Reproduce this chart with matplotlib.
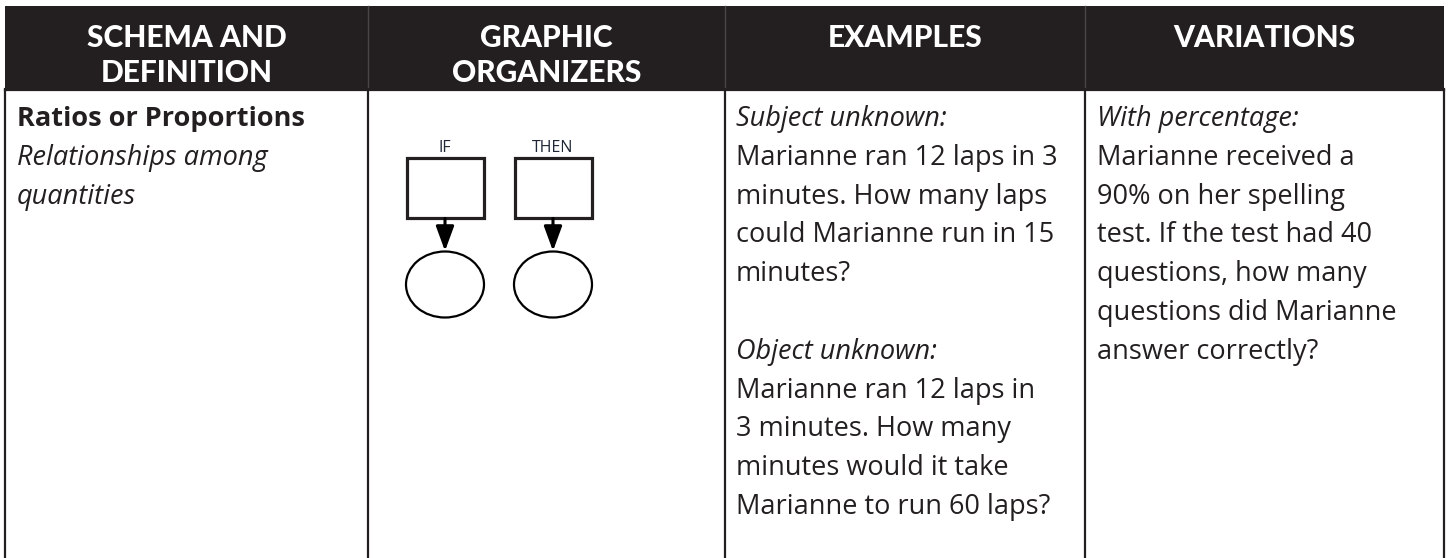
import matplotlib
matplotlib.use("Agg")
import matplotlib.pyplot as plt
from matplotlib.patches import Rectangle, Ellipse, FancyArrowPatch

# ---- content ----
headers = ["SCHEMA AND\nDEFINITION", "GRAPHIC\nORGANIZERS", "EXAMPLES", "VARIATIONS"]
col_edges = [5, 368, 725, 1085, 1444]

schema_title = "Ratios or Proportions"
schema_def = ["Relationships among", "quantities"]

examples = [
    ("Subject unknown:", "italic"),
    ("Marianne ran 12 laps in 3", "normal"),
    ("minutes. How many laps", "normal"),
    ("could Marianne run in 15", "normal"),
    ("minutes?", "normal"),
    ("", "normal"),
    ("Object unknown:", "italic"),
    ("Marianne ran 12 laps in", "normal"),
    ("3 minutes. How many", "normal"),
    ("minutes would it take", "normal"),
    ("Marianne to run 60 laps?", "normal"),
]
variations = [
    ("With percentage:", "italic"),
    ("Marianne received a", "normal"),
    ("90% on her spelling", "normal"),
    ("test. If the test had 40", "normal"),
    ("questions, how many", "normal"),
    ("questions did Marianne", "normal"),
    ("answer correctly?", "normal"),
]
organizer_labels = ["IF", "THEN"]

# ---- style ----
W, H = 1449, 558
DARK = "#231f20"
FONT = "Open Sans"
HFONT = "Lato"
BODY_SIZE = 19.5
LINE_H = 38.8
first_baseline = 126

fig = plt.figure(figsize=(W / 100, H / 100), dpi=100)
ax = fig.add_axes([0, 0, 1, 1])
ax.set_xlim(0, W)
ax.set_ylim(H, 0)
ax.axis("off")

# header band
hdr_top, hdr_bot = 6, 89
ax.add_patch(Rectangle((col_edges[0], hdr_top), col_edges[-1] - col_edges[0],
                       hdr_bot - hdr_top, facecolor=DARK, edgecolor="none"))
for x in col_edges[1:-1]:
    ax.plot([x, x], [hdr_top, hdr_bot], color="#4a4647", lw=1)
for i, h in enumerate(headers):
    cx = (col_edges[i] + col_edges[i + 1]) / 2
    for j, line in enumerate(h.split("\n")):
        ax.text(cx, 47 + j * 35, line, color="white", fontsize=21.5, fontweight="black",
                family=HFONT, ha="center", va="baseline")

# table borders
tbl_bot = H + 5
for x in col_edges:
    ax.plot([x, x], [hdr_bot, tbl_bot], color=DARK, lw=1.6)
ax.plot([col_edges[0], col_edges[-1]], [hdr_bot + 1, hdr_bot + 1], color=DARK, lw=1.6)

def draw_lines(x0, lines):
    for k, (txt, style) in enumerate(lines):
        if not txt:
            continue
        weight = "bold" if style == "bold" else "normal"
        st = "italic" if style == "italic" else "normal"
        ax.text(x0, first_baseline + k * LINE_H, txt, color=DARK, fontsize=BODY_SIZE,
                family=FONT, fontweight=weight, style=st, ha="left", va="baseline")

draw_lines(col_edges[0] + 12, [(schema_title, "bold")] + [(s, "italic") for s in schema_def])
draw_lines(col_edges[2] + 11, examples)
draw_lines(col_edges[3] + 12, variations)

# graphic organizer
box_w, box_h = 77, 60
box_top = 157.5
arrow_end = 251
ell_w, ell_h = 78, 66
for k, lab in enumerate(organizer_labels):
    cx = 445 + k * 108
    ax.add_patch(Rectangle((cx - box_w / 2, box_top), box_w, box_h, facecolor="white",
                           edgecolor=DARK, lw=2.3))
    ax.text(cx, box_top - 5.5, lab, fontsize=11.5, family="Open Sans", color="#1f2636",
            ha="center", va="baseline")
    ax.add_patch(FancyArrowPatch((cx, box_top + box_h + 1), (cx, arrow_end),
                                 arrowstyle="-|>,head_length=15,head_width=5.5",
                                 color="black", lw=2.2, mutation_scale=1,
                                 shrinkA=0, shrinkB=0))
    ax.add_patch(Ellipse((cx, arrow_end + ell_h / 2 + 0.5), ell_w, ell_h, facecolor="none",
                         edgecolor="black", lw=1.6))

fig.savefig("out.png", dpi=100, facecolor="white")
